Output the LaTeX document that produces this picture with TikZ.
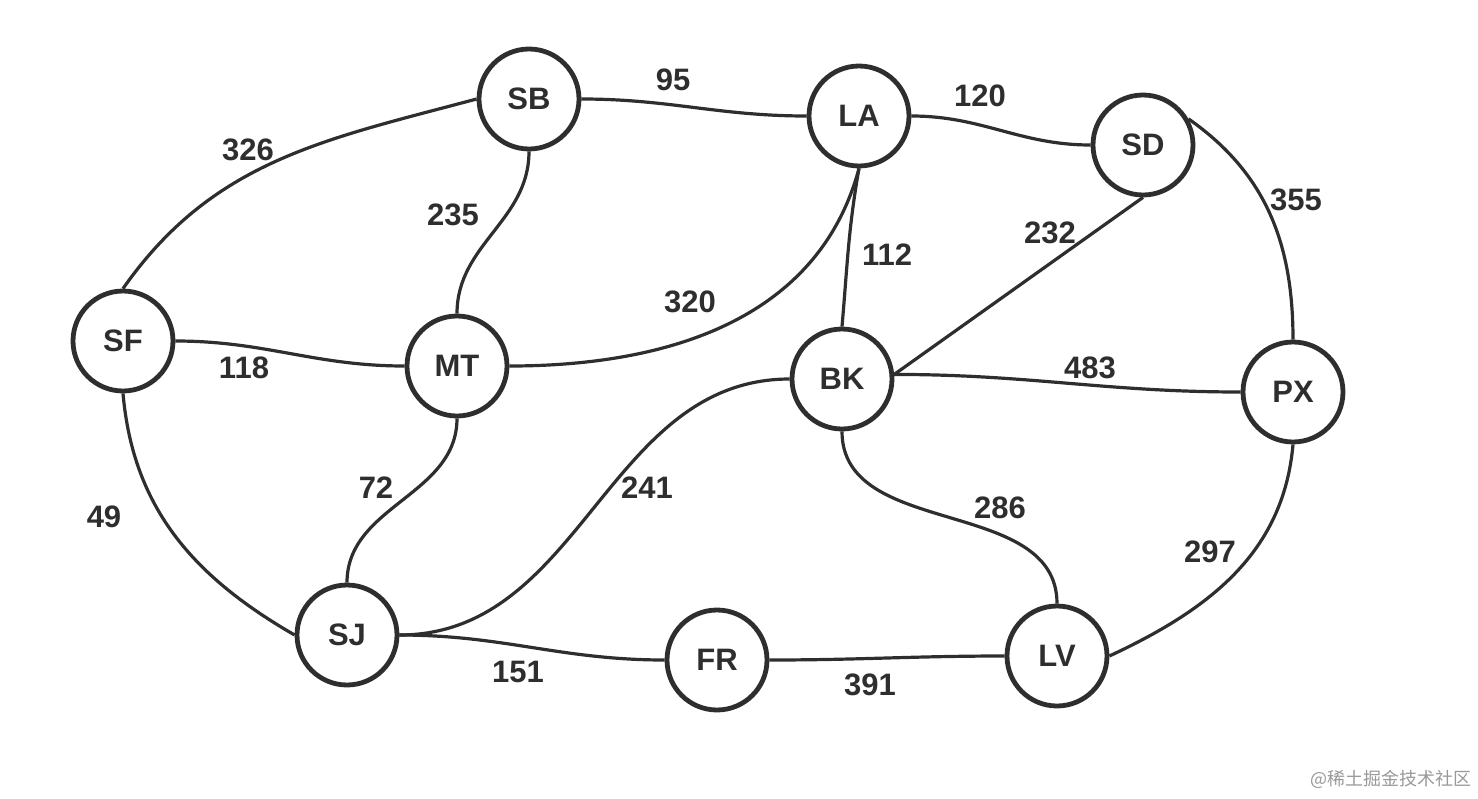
\documentclass[tikz,border=0pt]{standalone}
\usepackage{fontspec}
\setmainfont{Liberation Sans}
\newfontfamily\cjkfont{Noto Sans CJK SC}
\definecolor{ink}{HTML}{2E2E2E}
\begin{document}
\begin{tikzpicture}[x=0.5pt,y=-0.5pt,
	city/.style={circle,draw=ink,line width=2.4pt,minimum size=50pt,inner sep=0pt,
		text=ink,font=\fontsize{15.5}{18}\selectfont\bfseries},
	road/.style={draw=ink,line width=1.6pt},
	dist/.style={text=ink,font=\fontsize{15.5}{18}\selectfont\bfseries}]
	\useasboundingbox (0,0) rectangle (1478,798);
	% cities
	\node[city] (SB) at (529,99) {SB};
	\node[city] (LA) at (859,116) {LA};
	\node[city] (SD) at (1143,145) {SD};
	\node[city] (SF) at (123,341) {SF};
	\node[city] (MT) at (457,366) {MT};
	\node[city] (BK) at (842,379) {BK};
	\node[city] (PX) at (1293,392) {PX};
	\node[city] (SJ) at (347,635) {SJ};
	\node[city] (FR) at (717,660) {FR};
	\node[city] (LV) at (1057,656) {LV};
	% roads
	\draw[road] (SF.north) to[out=55,in=195] (SB.west);
	\draw[road] (SB.east) to[out=0,in=180] (LA.west);
	\draw[road] (LA.east) to[out=0,in=180] (SD.west);
	\draw[road] (SD.30) to[out=-35,in=90] (PX.north);
	\draw[road] (SB.south) to[out=-90,in=90] (MT.north);
	\draw[road] (LA.south) to[out=-105,in=0] (MT.east);
	\draw[road] (LA.south) to[out=-100,in=85] (BK.north);
	\draw[road] (SD.south) -- (BK.5);
	\draw[road] (SF.east) to[out=0,in=180] (MT.west);
	\draw[road] (BK.5) to[out=0,in=180] (PX.west);
	\draw[road] (SF.south) to[out=-85,in=150] (SJ.west);
	\draw[road] (MT.south) to[out=-90,in=90] (SJ.north);
	\draw[road] (BK.west) to[out=180,in=0] (SJ.east);
	\draw[road] (SJ.east) to[out=0,in=180] (FR.west);
	\draw[road] (FR.east) to[out=0,in=180] (LV.west);
	\draw[road] (BK.south) to[out=-90,in=90] (LV.north);
	\draw[road] (PX.south) to[out=-95,in=25] (LV.east);
	% distances
	\node[dist] (d326) at (248,150) {326};
	\node[dist] (d95) at (673,80) {95};
	\node[dist] (d120) at (980,96) {120};
	\node[dist] (d235) at (453,215) {235};
	\node[dist] (d112) at (887,255) {112};
	\node[dist] (d232) at (1050,233) {232};
	\node[dist] (d355) at (1296,200) {355};
	\node[dist] (d320) at (690,302) {320};
	\node[dist] (d118) at (244,368) {118};
	\node[dist] (d483) at (1090,368) {483};
	\node[dist] (d49) at (104,517) {49};
	\node[dist] (d72) at (376,488) {72};
	\node[dist] (d241) at (647,488) {241};
	\node[dist] (d286) at (1000,508) {286};
	\node[dist] (d297) at (1210,552) {297};
	\node[dist] (d151) at (518,672) {151};
	\node[dist] (d391) at (870,685) {391};
	\node[text=black!40,font=\cjkfont\fontsize{9}{11}\selectfont] (mark) at (1391,779) {@稀土掘金技术社区};
\end{tikzpicture}
\end{document}
